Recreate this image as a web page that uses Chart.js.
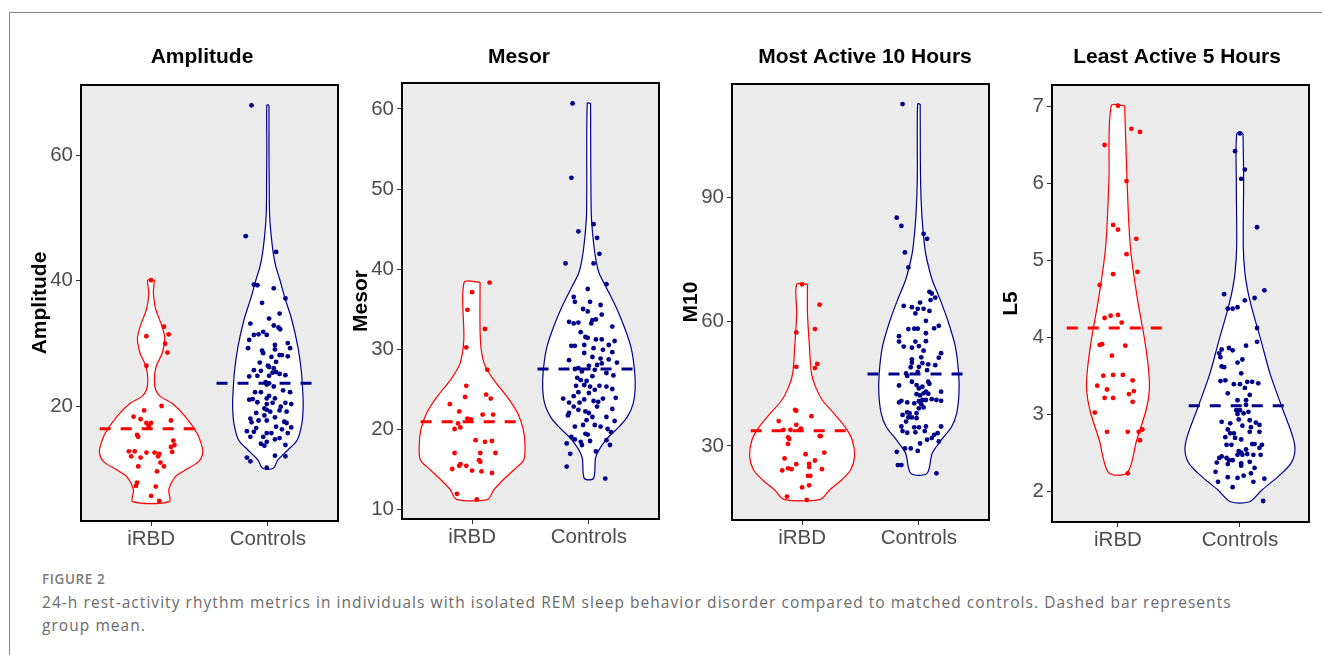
<!DOCTYPE html>
<html><head><meta charset="utf-8">
<script src="https://cdn.jsdelivr.net/npm/chart.js@4.4.1/dist/chart.umd.min.js"></script>
<style>
html,body{margin:0;padding:0;background:#fff;width:1322px;height:655px;overflow:hidden;position:relative;}
.frame{position:absolute;left:9px;top:12px;width:1400px;height:700px;border-top:1.5px solid #8a8a8a;border-left:1.5px solid #8a8a8a;}
canvas{position:absolute;top:0;}
#figlabel{position:absolute;left:42px;top:571px;font:600 13.5px 'Open Sans',sans-serif;letter-spacing:0.6px;color:#7a7a7a;line-height:16px;white-space:nowrap;}
#caption{position:absolute;left:42px;top:591px;font:15.5px 'Open Sans',sans-serif;letter-spacing:1.05px;color:#6a6a6a;line-height:23px;white-space:nowrap;}
</style></head><body>
<div class="frame"></div>
<canvas id="c0"></canvas><canvas id="c1"></canvas><canvas id="c2"></canvas><canvas id="c3"></canvas>
<div id="figlabel">FIGURE 2</div>
<div id="caption">24-h rest-activity rhythm metrics in individuals with isolated REM sleep behavior disorder compared to matched controls. Dashed bar represents<br>group mean.</div>
<script>
// ---------------- DATA ----------------
const groups = ['iRBD', 'Controls'];
const panelTitles = ['Amplitude', 'Mesor', 'Most Active 10 Hours', 'Least Active 5 Hours'];
const yAxisTitles = ['Amplitude', 'Mesor', 'M10', 'L5'];
const ampTicks = [20, 40, 60];
const mesTicks = [10, 20, 30, 40, 50, 60];
const m10Ticks = [30, 60, 90];
const l5Ticks = [2, 3, 4, 5, 6, 7];

const ampMeans = [16.5, 23.7];
const mesMeans = [20.9, 27.5];
const m10Means = [33.7, 47.4];
const l5Means = [4.12, 3.11];

// points: [value, horizontal jitter]
const ampIrbd = [[40.1,0],[31.2,-0.04],[32.7,0.11],[31.5,0.15],[30.0,0.12],[28.6,0.14],[26.5,-0.04],[20.1,0.09],[19.4,-0.06],[18.4,-0.15],[18.0,-0.09],[17.8,0.17],[17.4,-0.04],[17.4,0.0],[16.9,-0.02],[15.5,-0.12],[15.2,-0.11],[14.6,0.19],[13.6,0.17],[13.9,0.2],[12.8,0.18],[12.9,-0.19],[12.9,-0.14],[12.1,-0.17],[12.7,-0.04],[12.7,0.03],[12.5,0.07],[12.1,0.06],[11.9,-0.09],[11.1,0.08],[10.5,0.11],[10.5,-0.11],[9.7,0.05],[7.9,-0.12],[7.4,-0.13],[7.3,0.04],[5.8,0],[5.0,0.07]];
const ampCtrl = [[67.9,-0.14],[47.1,-0.19],[44.6,0.07],[39.4,-0.12],[39.3,-0.09],[38.8,0.05],[37.2,0.15],[36.5,-0.05],[34.8,0.1],[34.0,0.01],[33.2,-0.15],[32.9,0.05],[32.6,0.09],[32.3,0.105],[31.9,-0.04],[31.4,-0.01],[31.4,-0.12],[31.5,-0.08],[30.6,-0.16],[29.8,0.06],[30.1,0.17],[29.3,-0.17],[29.3,0.19],[29.1,0.06],[28.9,-0.05],[28.5,-0.04],[28.2,0.1],[28.2,0.12],[27.9,0.03],[28.0,0.17],[27.0,-0.07],[27.1,0.07],[26.5,0.0],[25.8,-0.12],[25.7,-0.06],[26.3,0.01],[26.1,0.05],[25.4,0.04],[25.5,0.07],[25.2,0.1],[24.9,0.01],[24.8,-0.16],[24.9,-0.09],[25.0,0.15],[23.9,-0.02],[23.7,0.01],[23.5,-0.01],[23.2,0.05],[22.6,0.13],[22.3,0.19],[22.3,-0.11],[22.3,-0.06],[21.7,0.01],[21.3,-0.01],[21.1,-0.16],[21.2,-0.13],[21.3,0.06],[20.7,-0.09],[20.4,-0.01],[20.6,0.04],[20.6,0.15],[20.4,0.2],[20.0,0.11],[19.7,-0.03],[19.0,-0.10],[19.5,-0.01],[19.2,0.02],[19.4,0.10],[19.2,0.16],[18.6,-0.03],[18.3,0.06],[18.1,-0.15],[17.8,-0.08],[17.5,-0.14],[17.8,-0.01],[17.6,0.14],[17.4,0.16],[16.8,0.07],[16.7,0.2],[16.6,-0.10],[16.1,-0.18],[16.0,-0.12],[15.8,-0.01],[15.8,0.03],[16.4,0.12],[15.8,0.17],[15.2,-0.15],[15.2,-0.04],[14.8,0.06],[15.0,0.10],[14.4,-0.01],[14.1,-0.06],[13.8,-0.03],[13.9,0.15],[11.9,-0.18],[11.3,-0.15],[12.2,0.06],[12.1,0.15],[10.3,-0.01]];

const mesIrbd = [[38.3,0.15],[37.1,0],[34.9,-0.04],[32.5,0.11],[30.2,-0.05],[27.4,0.13],[25.4,-0.05],[24.0,-0.06],[24.3,0.12],[23.8,0.16],[23.1,-0.19],[22.2,-0.11],[21.8,0.09],[21.8,0.18],[21.3,-0.04],[21.2,-0.01],[20.7,-0.12],[20.2,-0.10],[20.0,-0.15],[18.6,0.03],[18.4,0.11],[18.5,0.17],[17.0,-0.15],[17.0,0.07],[17.0,0.2],[16.1,0.06],[15.9,0.07],[15.6,-0.1],[15.4,-0.11],[15.4,-0.05],[15.0,-0.17],[14.8,0],[14.7,0.08],[14.5,0.17],[11.9,-0.13],[11.2,0.04]];
const mesCtrl = [[60.7,-0.14],[51.4,-0.15],[45.6,0.04],[44.7,-0.09],[43.9,0.07],[41.9,0.09],[40.7,-0.2],[40.7,0.04],[38.1,0.15],[36.5,-0.13],[35.9,-0.12],[37.5,-0.01],[35.5,0.1],[35.9,0.01],[35.0,-0.05],[34.7,-0.01],[34.3,0.11],[33.6,0.03],[33.7,0.06],[33.4,-0.17],[33.2,-0.13],[33.3,-0.09],[33.2,0.02],[32.1,-0.07],[31.5,-0.03],[31.4,-0.01],[31.2,0.06],[31.2,0.11],[30.4,-0.15],[30.4,-0.12],[30.5,-0.04],[30.5,0.17],[30.1,0.04],[29.9,0.12],[29.5,-0.04],[29.0,0.03],[28.8,0.1],[28.7,0.17],[28.6,-0.17],[28.2,0.11],[28.0,0.07],[27.9,0],[27.6,-0.09],[27.5,-0.12],[27.4,0.05],[27.2,-0.06],[27.0,0.15],[26.6,0.03],[26.4,-0.10],[26.1,-0.07],[26.0,-0.02],[25.5,-0.04],[25.4,0.09],[25.3,0.15],[25.4,-0.11],[25.3,0.01],[24.9,0.05],[24.6,-0.09],[24.5,0],[24.1,-0.13],[23.8,0.12],[23.8,-0.22],[23.7,-0.04],[23.5,0.04],[23.3,-0.08],[23.3,-0.17],[23.4,0.08],[22.8,-0.13],[22.0,-0.17],[22.4,-0.09],[22.2,-0.03],[22.0,0],[22.8,0.07],[21.5,0.03],[21.7,-0.18],[21.1,-0.02],[21.5,0.15],[20.3,-0.12],[20.5,-0.05],[20.5,0.05],[20.3,0.1],[20.0,0.16],[19.4,-0.03],[19.3,-0.01],[19.0,-0.15],[18.7,-0.12],[18.6,0.15],[18.5,0.01],[18.2,-0.19],[18.4,-0.07],[18.0,-0.06],[17.2,0.06],[16.9,-0.16],[15.3,-0.19],[13.8,0.14],[32.8,0.2],[31.0,0.22],[29.6,0.2],[28.3,0.24],[26.7,0.21],[25.0,0.2],[23.9,0.23],[22.5,0.2],[21.0,0.22],[19.6,0.19],[18.0,0.18]];

const m10Irbd = [[69.0,0],[64.1,0.15],[57.4,-0.05],[58.2,0.11],[49.1,-0.05],[49.8,0.13],[48.8,0.11],[38.7,-0.06],[38.5,-0.05],[37.2,0.08],[36.0,-0.2],[35.1,-0.05],[33.9,-0.16],[33.9,-0.1],[34.2,-0.01],[33.9,-0.02],[32.4,0.15],[32.4,0.16],[32.1,-0.12],[31.7,-0.11],[30.5,-0.12],[28.4,0.19],[28.0,0.03],[27.0,-0.15],[26.5,0.11],[25.7,0.06],[25.6,-0.05],[24.9,0.06],[24.6,-0.12],[24.4,-0.09],[24.1,-0.17],[24.4,0.17],[22.8,0.05],[22.8,0.07],[20.0,0],[20.5,0.06],[17.8,-0.13],[17.0,0.04]];
const m10Ctrl = [[112.5,-0.14],[85.1,-0.19],[83.1,-0.15],[81.2,0.04],[80.0,0.07],[76.7,-0.12],[73.1,-0.09],[67.2,0.09],[66.8,0.11],[65.8,0.14],[65.2,0.10],[64.6,0.01],[63.8,-0.13],[63.5,-0.06],[63.1,-0.01],[63.1,0.04],[62.0,-0.03],[62.6,0.09],[60.2,0.06],[59.0,0.17],[58.2,-0.09],[58.3,-0.04],[58.3,-0.01],[58.4,0.13],[57.2,0.06],[56.5,-0.17],[55.2,-0.17],[55.2,-0.03],[55.3,0.06],[54.0,-0.13],[53.7,-0.06],[54.1,0],[53.0,0.04],[52.4,0.19],[51.3,0.17],[50.9,-0.06],[51.4,0.02],[50.1,-0.06],[50.0,0.03],[49.1,0],[49.7,0.08],[49.5,0.14],[49.0,-0.07],[47.5,-0.11],[47.9,-0.01],[48.3,0.07],[46.9,-0.10],[45.5,-0.06],[45.5,0.08],[45.0,0.09],[44.7,-0.02],[44.3,0.03],[44.6,-0.17],[43.9,0],[43.1,0.06],[43.1,0.19],[42.7,0.04],[42.6,0.08],[42.2,0.01],[42.5,-0.02],[41.3,0.11],[41.1,0.15],[40.9,0.19],[41.1,0.06],[41.1,0.03],[40.8,0],[40.9,-0.15],[40.5,-0.17],[40.5,-0.10],[40.3,-0.04],[39.1,0],[39.3,0.04],[40.1,0.02],[38.1,-0.10],[37.9,-0.08],[37.9,-0.02],[37.5,-0.14],[36.9,-0.09],[36.9,-0.06],[36.7,-0.02],[35.9,-0.11],[34.7,0.06],[34.7,-0.15],[34.5,-0.04],[34.5,0],[34.7,0.19],[33.6,-0.14],[33.2,-0.10],[33.3,-0.03],[33.6,0.05],[33.1,0.16],[32.7,0.13],[31.9,0.11],[31.5,0.07],[30.6,0.01],[31.1,0.17],[29.4,-0.07],[29.4,-0.12],[28.8,-0.01],[28.6,-0.19],[25.4,-0.18],[25.4,-0.15],[23.4,0.15]];

const l5Irbd = [[7.01,0],[6.71,0.11],[6.67,0.18],[6.50,-0.11],[6.03,0.07],[5.46,-0.04],[5.40,0],[5.28,0.15],[5.08,0.07],[4.85,0.16],[4.82,-0.04],[4.68,-0.15],[4.25,-0.11],[4.28,-0.06],[4.29,0],[4.19,0.03],[3.90,-0.15],[3.91,-0.13],[3.89,0.06],[3.76,-0.05],[3.50,-0.12],[3.51,-0.04],[3.51,0.04],[3.37,-0.17],[3.32,-0.09],[3.44,0.12],[3.30,0.13],[3.26,0.09],[3.21,-0.11],[3.21,-0.04],[3.16,0.12],[3.02,-0.19],[2.77,-0.09],[2.77,0.08],[2.77,0.17],[2.80,0.2],[2.66,0.18],[2.23,0.08]];
const l5Ctrl = [[6.65,0],[6.42,-0.04],[6.18,0.04],[6.06,0.01],[5.43,0.14],[4.61,0.2],[4.56,-0.13],[4.48,0.04],[4.51,0.12],[4.37,-0.10],[4.37,-0.06],[4.39,-0.02],[4.12,0.14],[3.94,0.14],[3.89,0.05],[3.86,-0.09],[3.83,-0.06],[3.84,-0.15],[3.79,-0.17],[3.74,-0.16],[3.71,0.02],[3.67,-0.02],[3.62,-0.15],[3.61,-0.13],[3.53,0.01],[3.43,-0.16],[3.44,-0.12],[3.39,-0.05],[3.39,0],[3.42,0.06],[3.42,0.10],[3.40,0.15],[3.34,0.04],[3.27,-0.10],[3.25,0.08],[3.18,0.05],[3.18,-0.02],[3.12,0.05],[3.05,0],[3.05,-0.03],[3.01,0.03],[3.03,0.07],[3.00,-0.02],[2.93,-0.01],[2.90,-0.15],[2.92,0.08],[2.88,-0.08],[2.89,0.13],[2.86,0.16],[2.85,0.02],[2.83,0.09],[2.80,-0.10],[2.77,0.16],[2.77,0.08],[2.75,-0.08],[2.75,-0.05],[2.70,-0.12],[2.67,0.01],[2.69,-0.04],[2.60,-0.11],[2.60,-0.07],[2.61,0.10],[2.61,0.12],[2.60,0.18],[2.54,0.05],[2.56,0.16],[2.52,-0.01],[2.50,0.01],[2.47,-0.02],[2.47,0.02],[2.48,0.06],[2.47,0.11],[2.47,0.17],[2.45,-0.15],[2.43,-0.17],[2.43,-0.11],[2.40,-0.09],[2.40,-0.06],[2.37,-0.19],[2.35,-0.10],[2.36,0.01],[2.38,0.08],[2.33,0.01],[2.25,-0.20],[2.30,0.12],[2.18,-0.10],[2.17,-0.02],[2.20,0.03],[2.23,0.09],[2.16,0.20],[2.12,-0.18],[2.12,0.11],[2.05,-0.06],[1.87,0.19]];

// violin outlines: [value, half width in category units], top to bottom
const ampIrbdViolin = [[40.13,0.028],[38.01,0.020],[35.89,0.034],[34.83,0.051],[32.72,0.094],[30.86,0.117],[28.48,0.094],[26.36,0.043],[24.24,0.028],[22.65,0.040],[21.59,0.080],[20.53,0.179],[18.41,0.293],[15.76,0.393],[13.64,0.436],[12.58,0.442],[11.26,0.407],[9.93,0.293],[8.87,0.208],[6.75,0.151],[4.90,0.157]];
const ampCtrlViolin = [[67.95,0.009],[61.32,0.009],[56.03,0.011],[50.73,0.014],[47.55,0.026],[44.37,0.046],[42.25,0.068],[40.13,0.103],[37.48,0.142],[33.77,0.205],[29.54,0.256],[25.83,0.285],[22.12,0.299],[20.0,0.302],[17.35,0.291],[14.70,0.251],[13.11,0.171],[11.52,0.085],[10.20,0.046]];
const mesIrbdViolin = [[38.33,0.068],[31.13,0.071],[28.21,0.103],[26.13,0.185],[24.04,0.299],[21.96,0.390],[19.88,0.439],[17.79,0.453],[16.13,0.442],[14.88,0.356],[13.63,0.265],[12.38,0.185],[11.21,0.134]];
const mesCtrlViolin = [[60.71,0.014],[46.96,0.020],[43.63,0.037],[41.13,0.060],[39.46,0.088],[37.79,0.145],[35.29,0.231],[32.79,0.302],[30.29,0.359],[27.79,0.387],[25.29,0.396],[23.21,0.379],[21.54,0.330],[20.29,0.259],[18.63,0.145],[16.54,0.060],[13.83,0.040]];
const m10IrbdViolin = [[69.01,0.046],[62.01,0.046],[53.97,0.063],[47.53,0.080],[44.32,0.114],[41.10,0.172],[37.88,0.272],[34.66,0.366],[31.45,0.429],[27.43,0.449],[24.21,0.415],[21.80,0.338],[19.38,0.235],[17.13,0.157]];
const m10CtrlViolin = [[112.52,0.011],[94.18,0.014],[85.34,0.026],[78.10,0.049],[74.88,0.069],[70.05,0.114],[66.03,0.172],[60.40,0.246],[53.97,0.312],[47.53,0.340],[42.71,0.343],[37.88,0.323],[34.66,0.280],[31.45,0.192],[28.23,0.114],[23.40,0.069]];
const l5IrbdViolin = [[7.01,0.055],[6.05,0.074],[5.18,0.101],[4.53,0.156],[3.96,0.219],[3.57,0.251],[3.31,0.257],[3.05,0.230],[2.66,0.153],[2.24,0.077]];
const l5CtrlViolin = [[6.65,0.025],[6.05,0.030],[5.18,0.027],[4.83,0.041],[4.57,0.068],[4.31,0.109],[3.96,0.172],[3.53,0.246],[3.10,0.342],[2.71,0.432],[2.53,0.451],[2.36,0.418],[2.19,0.314],[2.01,0.178],[1.86,0.077]];

// ---------------- LAYOUT / STYLE ----------------
const COLORS = ['#FF0000', '#00008B'];
const FONT = "'Liberation Sans', Arial, Helvetica, sans-serif";
const CANVAS_H = 560;
const panels = [
  {box:[81,338,85,521], yr:[1.82,71.13], xr:[0.4,2.6], ticks:ampTicks, means:ampMeans, pts:[ampIrbd,ampCtrl], vio:[ampIrbdViolin,ampCtrlViolin], titleX:202, halfBar:0.44},
  {box:[402,659,83,519], yr:[8.75,63.25], xr:[0.4,2.6], ticks:mesTicks, means:mesMeans, pts:[mesIrbd,mesCtrl], vio:[mesIrbdViolin,mesCtrlViolin], titleX:519, halfBar:0.44},
  {box:[732,989,84,520], yr:[12.14,117.35], xr:[0.4,2.6], ticks:m10Ticks, means:m10Means, pts:[m10Irbd,m10Ctrl], vio:[m10IrbdViolin,m10CtrlViolin], titleX:865, halfBar:0.44},
  {box:[1052,1309,85,522], yr:[1.597,7.28], xr:[0.459,2.566], ticks:l5Ticks, means:l5Means, pts:[l5Irbd,l5Ctrl], vio:[l5IrbdViolin,l5CtrlViolin], titleX:1177, halfBar:0.42}
];

function violinPath(outline, c) {
  const right = outline.map(([y, w]) => ({x: c + w, y}));
  const left = outline.slice().reverse().map(([y, w]) => ({x: c - w, y}));
  return right.concat(left, [right[0]]);
}

const decor = {
  id: 'decor',
  beforeDatasetsDraw(chart) {
    const {ctx, chartArea: a} = chart;
    ctx.save(); ctx.fillStyle = '#EBEBEB';
    ctx.fillRect(a.left, a.top, a.right - a.left, a.bottom - a.top);
    ctx.restore();
  },
  afterDatasetsDraw(chart) {
    const {ctx, chartArea: a} = chart;
    ctx.save(); ctx.strokeStyle = '#000'; ctx.lineWidth = 2;
    ctx.strokeRect(a.left, a.top, a.right - a.left, a.bottom - a.top);
    ctx.restore();
  },
  afterDraw(chart, args, opts) {
    const ctx = chart.ctx;
    ctx.save();
    ctx.font = 'bold 21px ' + FONT;
    ctx.fillStyle = '#000'; ctx.textAlign = 'center'; ctx.textBaseline = 'middle';
    ctx.fillText(opts.text, opts.x, 57);
    ctx.restore();
  }
};

panels.forEach((p, i) => {
  const [bx0, bx1, by0, by1] = p.box;
  const left = bx0 - 81;
  const width = bx1 + 12 - left;
  const cv = document.getElementById('c' + i);
  cv.width = width; cv.height = CANVAS_H;
  cv.style.left = left + 'px';
  cv.style.width = width + 'px'; cv.style.height = CANVAS_H + 'px';

  const datasets = [];
  p.means.forEach((m, g) => {
    datasets.push({type:'line', data:[{x:g+1-p.halfBar, y:m},{x:g+1+p.halfBar, y:m}],
      borderColor: COLORS[g], borderWidth: 3, borderDash:[11,10], pointRadius:0, fill:false, order:0, tension:0});
  });
  p.pts.forEach((arr, g) => {
    datasets.push({type:'line', data: arr.map(([v, j]) => ({x: g + 1 + j, y: v})),
      showLine:false, pointRadius:2.4, pointBackgroundColor: COLORS[g], pointBorderWidth:0,
      borderColor: COLORS[g], backgroundColor: COLORS[g], order:1});
  });
  p.vio.forEach((outline, g) => {
    datasets.push({type:'line', data: violinPath(outline, g + 1),
      borderColor: COLORS[g], borderWidth: 1.2, backgroundColor:'#FFFFFF', fill:'shape',
      pointRadius:0, tension:0.3, order:2});
  });

  new Chart(cv, {
    type: 'line',
    data: {datasets},
    plugins: [decor],
    options: {
      responsive:false, animation:false, events:[],
      layout: {padding: {left:0, top: by0, right: width - (bx1 - left), bottom:0}},
      plugins: {legend:{display:false}, tooltip:{enabled:false}, decor:{text: panelTitles[i], x: p.titleX - left}},
      scales: {
        x: {type:'linear', min:p.xr[0], max:p.xr[1],
          afterBuildTicks: s => { s.ticks = [1,2].map(v => ({value:v})); },
          afterFit: s => { s.height = CANVAS_H - by1; },
          grid:{display:true, drawOnChartArea:false, drawTicks:true, tickLength:5, color:'#333', lineWidth:1},
          border:{display:false},
          ticks:{autoSkip:false, maxRotation:0, padding:1, color:'#4D4D4D', font:{family:FONT, size:20.5},
            callback: v => groups[v - 1]}
        },
        y: {type:'linear', min:p.yr[0], max:p.yr[1],
          afterBuildTicks: s => { s.ticks = p.ticks.map(v => ({value:v})); },
          afterFit: s => { s.width = 81; },
          grid:{display:true, drawOnChartArea:false, drawTicks:true, tickLength:5, color:'#333', lineWidth:1},
          border:{display:false},
          ticks:{autoSkip:false, padding:3, color:'#4D4D4D', font:{family:FONT, size:20.5}, callback: v => String(v)},
          title:{display:true, text: yAxisTitles[i], color:'#000', font:{family:FONT, size:21, weight:'bold'}, padding:{top:28, bottom:0}}
        }
      }
    }
  });
});
</script>
</body></html>
